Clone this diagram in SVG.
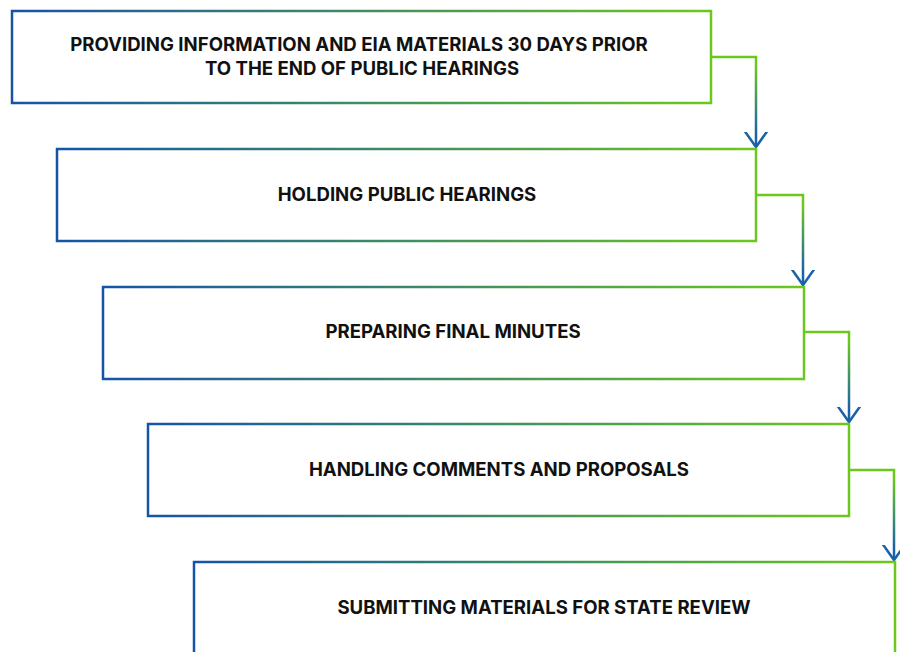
<svg xmlns="http://www.w3.org/2000/svg" width="900" height="652" viewBox="0 0 900 652">
<defs>
<linearGradient id="boxg" x1="0" y1="0" x2="1" y2="0">
<stop offset="0" stop-color="#1553a8"/>
<stop offset="1" stop-color="#6cc81c"/>
</linearGradient>
<linearGradient id="cong" x1="0" y1="0" x2="0" y2="1">
<stop offset="0.1" stop-color="#6cc81c"/>
<stop offset="0.85" stop-color="#1a62a8"/>
</linearGradient>
<marker id="arr" markerWidth="30" markerHeight="30" viewBox="-15 -15 30 30" refX="0" refY="0" orient="auto" markerUnits="userSpaceOnUse">
<path d="M-19,-13.5 L0,0 L-19,13.5" fill="none" stroke="#1a62a8" stroke-width="2.5"/>
</marker>
<style>
.box{fill:#ffffff;stroke:url(#boxg);stroke-width:2.5}
.con{fill:none;stroke:url(#cong);stroke-width:2.5}
.t{font-family:Inter,"Liberation Sans",sans-serif;font-weight:700;font-size:18.6px;fill:#111;text-anchor:middle}
</style>
</defs>
<g id="connectors">
<path class="con" d="M711,57 H756 V147" marker-end="url(#arr)"/>
<path class="con" d="M756,195 H803 V285" marker-end="url(#arr)"/>
<path class="con" d="M804,332 H849 V422" marker-end="url(#arr)"/>
<path class="con" d="M849,470 H894 V560" marker-end="url(#arr)"/>
</g>
<g id="n1">
<rect class="box" x="12" y="11" width="699" height="92"/>
<text class="t" x="359" y="51">PROVIDING INFORMATION AND EIA MATERIALS 30 DAYS PRIOR</text>
<text class="t" x="362" y="75">TO THE END OF PUBLIC HEARINGS</text>
</g>
<g id="n2">
<rect class="box" x="57" y="149" width="699" height="92"/>
<text class="t" x="407" y="201">HOLDING PUBLIC HEARINGS</text>
</g>
<g id="n3">
<rect class="box" x="103" y="287" width="701" height="92"/>
<text class="t" x="453" y="338">PREPARING FINAL MINUTES</text>
</g>
<g id="n4">
<rect class="box" x="148" y="424" width="701" height="92"/>
<text class="t" x="499" y="476">HANDLING COMMENTS AND PROPOSALS</text>
</g>
<g id="n5">
<rect class="box" x="194" y="562" width="701" height="92"/>
<text class="t" x="544" y="614">SUBMITTING MATERIALS FOR STATE REVIEW</text>
</g>
</svg>
